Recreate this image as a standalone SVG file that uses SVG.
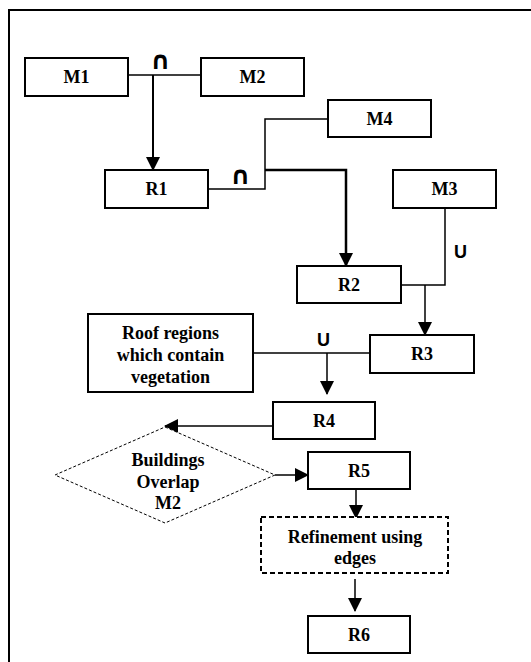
<svg xmlns="http://www.w3.org/2000/svg" width="531" height="662" viewBox="0 0 531 662">
<style>
.box{fill:#fff;stroke:#000;stroke-width:2}
.dia{fill:#fff;stroke:#000;stroke-width:1;stroke-dasharray:3,2}
.dbox{fill:#fff;stroke:#000;stroke-width:2;stroke-dasharray:5,3}
.t{font-family:"Liberation Serif","Times New Roman",serif;font-weight:bold;font-size:18px;text-anchor:middle;fill:#000}
.op{font-family:"DejaVu Sans","Liberation Sans",sans-serif;font-size:25px;font-weight:bold;text-anchor:middle;fill:#000}
.opu{font-family:"Liberation Sans",Arial,sans-serif;font-size:18px;font-weight:bold;text-anchor:middle;fill:#000}
.c{fill:none;stroke:#000;stroke-width:1.5}
.ca{fill:none;stroke:#000;stroke-width:1.5;marker-end:url(#ah)}
.ct{fill:none;stroke:#000;stroke-width:2.5;marker-end:url(#ah)}
</style>
<defs>
<marker id="ah" viewBox="0 0 14 14" refX="13" refY="7" markerWidth="14" markerHeight="14" markerUnits="userSpaceOnUse" orient="auto">
<path d="M0,0 L14,7 L0,14 z" fill="#000"/>
</marker>
</defs>
<rect width="531" height="662" fill="#fff"/>
<path d="M9,662 L9,10 L531,10" fill="none" stroke="#000" stroke-width="2"/>
<g id="connectors">
<path class="c" d="M128,75 L201,75"/>
<path class="ca" d="M153,75 L153,170" style="stroke-width:2"/>
<path class="c" d="M208,189 L265,189 L265,119 L328,119"/>
<path class="ct" d="M265,170 L346,170 L346,266"/>
<path class="c" d="M445,208 L445,285 L401,285"/>
<path class="ca" d="M425,285 L425,335"/>
<path class="c" d="M253,353 L370,353"/>
<path class="ca" d="M327,353 L327,394"/>
<path class="ca" d="M273,426 L165,426"/>
<path class="ca" d="M275,475 L308,475"/>
<path class="ca" d="M356,489 L356,518"/>
<path class="ca" d="M355,579 L355,611"/>
<text class="op" x="160.5" y="69">∩</text>
<text class="op" x="240.5" y="184">∩</text>
<text class="opu" x="460.5" y="258">U</text>
<text class="opu" x="323.5" y="346">U</text>
</g>
<g id="M1"><rect class="box" x="25" y="58" width="103" height="38"/><text class="t" x="76.5" y="83">M1</text></g>
<g id="M2"><rect class="box" x="201" y="58" width="103" height="38"/><text class="t" x="252.5" y="83">M2</text></g>
<g id="R1"><rect class="box" x="105" y="170" width="103" height="38"/><text class="t" x="156.5" y="195">R1</text></g>
<g id="M4"><rect class="box" x="328" y="100" width="103" height="37"/><text class="t" x="379.5" y="125">M4</text></g>
<g id="M3"><rect class="box" x="393" y="170" width="103" height="38"/><text class="t" x="444.5" y="195">M3</text></g>
<g id="R2"><rect class="box" x="297" y="266" width="104" height="37"/><text class="t" x="349" y="291">R2</text></g>
<g id="R3"><rect class="box" x="370" y="335" width="104" height="38"/><text class="t" x="422" y="360">R3</text></g>
<g id="Roof"><rect class="box" x="88" y="314" width="165" height="78"/><text class="t" x="170.5" y="339">Roof regions</text><text class="t" x="170.5" y="361">which contain</text><text class="t" x="170.5" y="383">vegetation</text></g>
<g id="R4"><rect class="box" x="273" y="402" width="102" height="37"/><text class="t" x="324" y="427">R4</text></g>
<g id="Diamond"><polygon class="dia" points="165,427 275,475 165,523 55,475"/><text class="t" x="168" y="466">Buildings</text><text class="t" x="168" y="488">Overlap</text><text class="t" x="168" y="509">M2</text></g>
<g id="R5"><rect class="box" x="308" y="452" width="102" height="37"/><text class="t" x="359" y="477">R5</text></g>
<g id="Refine"><rect class="dbox" x="261" y="517" width="187" height="56"/><text class="t" x="355" y="543">Refinement using</text><text class="t" x="355" y="564">edges</text></g>
<g id="R6"><rect class="box" x="308" y="616" width="102" height="37"/><text class="t" x="359" y="641">R6</text></g>
</svg>
